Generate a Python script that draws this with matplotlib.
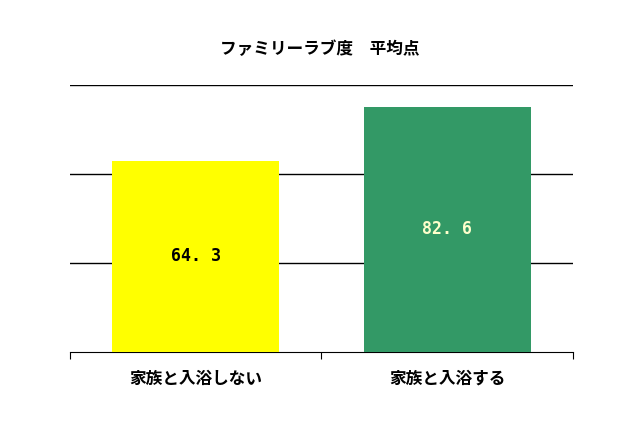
import matplotlib
matplotlib.use("Agg")
import matplotlib.pyplot as plt

plt.rcParams['font.family'] = ['Noto Sans CJK JP', 'DejaVu Sans']

categories = ["家族と入浴しない", "家族と入浴する"]
values = [64.3, 82.6]
colors = ["#FFFF00", "#339966"]
label_colors = ["#000000", "#FFFFCC"]

fig = plt.figure(figsize=(6.4, 4.26), dpi=100)
ax = fig.add_axes([0.109, 0.174, 0.786, 0.627])

ax.bar(range(len(values)), values, width=0.664, color=colors, zorder=3)
ax.set_xlim(-0.5, 1.5)
ax.set_ylim(0, 90)
for y in [30, 60, 90]:
    ax.axhline(y, color="black", lw=1, zorder=1)

for i, v in enumerate(values):
    ax.text(i, v / 2, f"{v:.1f}".replace(".", ". "), ha="center", va="center",
            fontsize=12, fontweight="bold", family="DejaVu Sans Mono",
            color=label_colors[i], zorder=4)

for s in ["top", "right", "left"]:
    ax.spines[s].set_visible(False)
ax.set_yticks([])
ax.set_xticks([-0.5, 0.5, 1.5])
ax.set_xticklabels([])
ax.tick_params(axis="x", direction="out", length=5)
for i, c in enumerate(categories):
    ax.text(i, -9, c, ha="center", va="center", fontsize=12, fontweight="bold")

fig.text(0.5, 0.885, "ファミリーラブ度　平均点", ha="center", va="center",
         fontsize=12, fontweight="bold")

fig.savefig("out.png", dpi=100)
